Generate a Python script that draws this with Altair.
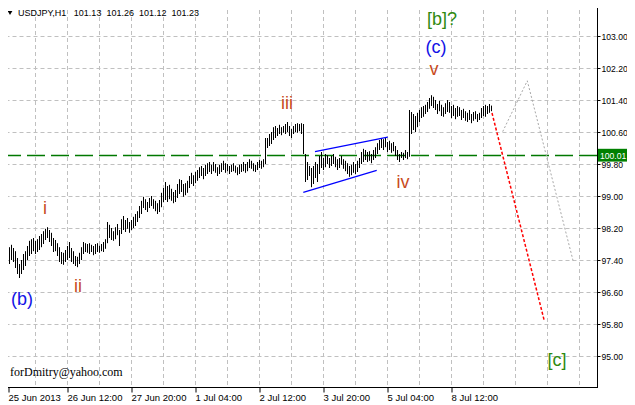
import altair as alt
import pandas as pd

# ---------------- data ----------------
bar_low = [
    97.62, 97.55, 97.30, 97.40, 97.35, 97.20, 97.05, 96.95, 97.05, 97.15,
    97.25, 97.40, 97.50, 97.55, 97.62, 97.55, 97.60, 97.65, 97.72, 97.80,
    97.90, 97.95, 97.85, 97.75, 97.60, 97.62, 97.50, 97.35, 97.30, 97.28,
    97.35, 97.40, 97.45, 97.35, 97.30, 97.25, 97.22, 97.30, 97.40, 97.55,
    97.60, 97.58, 97.55, 97.60, 97.52, 97.55, 97.60, 97.58, 97.62, 97.60,
    97.68, 97.82, 97.95, 97.90, 97.88, 97.92, 98.02, 97.75, 98.05, 98.15,
    98.10, 98.18, 98.08, 98.15, 98.20, 98.25, 98.35, 98.45, 98.55, 98.70,
    98.65, 98.60, 98.70, 98.75, 98.68, 98.62, 98.55, 98.60, 98.72, 98.85,
    98.90, 98.85, 98.92, 98.88, 98.82, 98.85, 98.95, 99.05, 99.10, 98.98,
    99.02, 99.08, 99.20, 99.30, 99.25, 99.32, 99.38, 99.45, 99.50, 99.42,
    99.50, 99.55, 99.60, 99.55, 99.62, 99.58, 99.50, 99.55, 99.60, 99.65,
    99.58, 99.62, 99.55, 99.60, 99.62, 99.58, 99.52, 99.55, 99.60, 99.62,
    99.58, 99.62, 99.70, 99.68, 99.62, 99.60, 99.65, 99.70, 99.68, 99.72,
    99.80, 100.20, 100.25, 100.30, 100.40, 100.45, 100.50, 100.55, 100.52, 100.58,
    100.55, 100.60, 100.50, 100.45, 100.55, 100.60, 100.58, 100.62, 100.55, 100.05,
    99.35, 99.40, 99.50, 99.22, 99.30, 99.45, 99.35, 99.55, 99.70, 99.65,
    99.72, 99.80, 99.70, 99.75, 99.80, 99.72, 99.65, 99.70, 99.78, 99.68,
    99.62, 99.55, 99.48, 99.52, 99.58, 99.55, 99.60, 99.70, 99.80, 99.85,
    99.90, 99.85, 99.88, 99.82, 99.90, 99.95, 100.05, 100.15, 100.20, 100.15,
    100.22, 100.10, 100.15, 100.08, 100.12, 100.00, 99.90, 99.85, 99.95, 99.90,
    99.95, 99.92, 99.98, 100.55, 100.65, 100.60, 100.72, 100.85, 100.95, 100.98,
    101.05, 101.10, 101.18, 101.25, 101.20, 101.15, 101.05, 101.12, 101.00, 100.98,
    101.05, 101.10, 101.08, 100.95, 101.00, 100.92, 100.98, 101.00, 100.90, 100.95,
    100.88, 100.85, 100.90, 100.82, 100.88, 100.92, 100.85, 100.90, 100.95, 101.00,
    100.98, 101.05, 101.08, 101.12,
]
bar_high = [
    97.98, 97.85, 97.72, 97.78, 97.70, 97.62, 97.45, 97.30, 97.40, 97.55,
    97.62, 97.75, 97.88, 97.92, 97.95, 97.88, 97.92, 98.00, 98.05, 98.12,
    98.18, 98.22, 98.15, 98.08, 97.95, 97.90, 97.82, 97.72, 97.60, 97.58,
    97.65, 97.75, 97.85, 97.70, 97.62, 97.50, 97.48, 97.58, 97.72, 97.85,
    97.82, 97.80, 97.82, 97.78, 97.75, 97.80, 97.82, 97.76, 97.80, 97.85,
    97.92, 98.35, 98.28, 98.20, 98.12, 98.22, 98.30, 98.15, 98.42, 98.50,
    98.40, 98.45, 98.35, 98.40, 98.48, 98.55, 98.62, 98.75, 98.88, 98.98,
    98.92, 98.85, 98.95, 99.00, 98.92, 98.88, 98.82, 98.90, 99.08, 99.20,
    99.35, 99.25, 99.28, 99.18, 99.10, 99.15, 99.30, 99.42, 99.40, 99.30,
    99.32, 99.38, 99.50, 99.58, 99.52, 99.60, 99.65, 99.72, 99.75, 99.70,
    99.78, 99.82, 99.85, 99.78, 99.85, 99.80, 99.72, 99.78, 99.82, 99.88,
    99.82, 99.80, 99.75, 99.78, 99.82, 99.76, 99.72, 99.78, 99.80, 99.85,
    99.80, 99.85, 99.92, 99.88, 99.82, 99.78, 99.85, 99.90, 99.88, 99.92,
    100.45, 100.45, 100.55, 100.60, 100.72, 100.75, 100.70, 100.78, 100.72, 100.75,
    100.80, 100.85, 100.75, 100.68, 100.75, 100.80, 100.82, 100.80, 100.82, 100.80,
    100.05, 99.85, 99.75, 99.70, 99.75, 99.85, 99.80, 100.00, 100.10, 99.95,
    100.05, 100.02, 99.95, 100.00, 100.05, 99.98, 99.92, 99.95, 100.00, 99.92,
    99.88, 99.82, 99.75, 99.78, 99.85, 99.80, 99.88, 99.95, 100.10, 100.18,
    100.15, 100.10, 100.12, 100.05, 100.15, 100.22, 100.32, 100.40, 100.45, 100.42,
    100.47, 100.35, 100.38, 100.32, 100.35, 100.25, 100.15, 100.05, 100.10, 100.08,
    100.15, 100.10, 101.15, 101.10, 101.05, 101.00, 101.08, 101.15, 101.22, 101.25,
    101.28, 101.35, 101.45, 101.52, 101.48, 101.40, 101.30, 101.38, 101.28, 101.22,
    101.32, 101.40, 101.35, 101.25, 101.28, 101.20, 101.25, 101.22, 101.15, 101.18,
    101.12, 101.08, 101.15, 101.05, 101.10, 101.12, 101.05, 101.08, 101.20, 101.25,
    101.28, 101.25, 101.30, 101.26,
]

symbol_text = "USDJPY,H1"
last_ohlc = [101.13, 101.26, 101.12, 101.23]
level_price = 100.01

x_tick_idx = [1.5, 31, 63, 95, 127, 159, 191, 223]
x_tick_text = ["25 Jun 2013", "26 Jun 12:00", "27 Jun 20:00", "1 Jul 04:00",
               "2 Jul 12:00", "3 Jul 20:00", "5 Jul 04:00", "8 Jul 12:00"]
x_grid_idx = [15, 31, 47, 63, 79, 95, 111, 127, 143, 159, 175, 191, 207, 223,
              239, 255, 271, 287]
y_ticks = [95.00, 95.80, 96.60, 97.40, 98.20, 99.00, 99.80, 100.60, 101.40,
           102.20, 103.00]

# channel (triangle) lines
chan_seg = ["upper", "upper", "lower", "lower"]
chan_idx = [154.75, 191.1, 148.9, 185.6]
chan_price = [100.11, 100.47, 99.09, 99.64]

# forecast paths
red_idx = [243.25, 269.4]
red_price = [101.075, 95.88]
gray_idx = [248.6, 260.9, 283.9]
gray_price = [100.61, 101.88, 97.36]

# wave labels
wave_text = ["(b)", "i", "ii", "iii", "iv", "v", "(c)", "[b]?", "[c]"]
wave_idx = [8.25, 19.75, 36.25, 140.75, 198.75, 214.25, 215.25, 218.25, 275.75]
wave_price = [96.40, 98.675, 96.725, 101.30, 99.325, 102.16, 102.71, 103.39, 94.875]
wave_color = ["#1212e6", "#c84a1c", "#c84a1c", "#c84a1c", "#c84a1c", "#c84a1c",
              "#1212e6", "#2f8a10", "#2f8a10"]

email_text = "forDmitry@yahoo.com"

# ---------------- layout ----------------
W, H = 594, 384.5
X0, X1 = -1.25, 295.75
Y0, Y1 = 94.2125, 103.825
FONT = "Liberation Sans"
xs = alt.Scale(domain=[X0, X1], nice=False, zero=False)
ys = alt.Scale(domain=[Y0, Y1], nice=False, zero=False)

label_expr = " : ".join(f"datum.value == {k} ? '{v}'" for k, v in zip(x_tick_idx, x_tick_text)) + " : ''"

XA = alt.Axis(
    orient="bottom", values=x_tick_idx, labelExpr=label_expr, grid=False,
    domainColor="black", tickColor="black", tickSize=5, labelAlign="left",
    labelBaseline="top", labelPadding=0, labelFont=FONT, labelFontSize=9.5,
    labelColor="black", translate=0, title=None, labelFlush=False,
    labelOverlap=False,
)
YA = alt.Axis(
    orient="right", values=y_ticks, format=".2f", grid=True,
    gridColor="#c0c0c0", gridDash=[4, 3], gridWidth=1, domainColor="black",
    tickColor="black", tickSize=3, labelPadding=1, labelFont=FONT,
    labelFontSize=8.6, labelColor="black", title=None, labelOverlap=False,
    labelFlush=False,
)


def X(f):
    return alt.X(f, scale=xs, axis=XA)


def Y(f):
    return alt.Y(f, scale=ys, axis=YA)


bars_df = pd.DataFrame({"i": list(range(len(bar_low))), "low": bar_low, "high": bar_high})

vgrid = alt.Chart(pd.DataFrame({"g": x_grid_idx})).mark_rule(
    color="#c0c0c0", strokeDash=[4, 3], strokeWidth=1
).encode(x=X("g:Q"))

level_df = pd.DataFrame({"v": [level_price]})
hline = alt.Chart(level_df).mark_rule(
    color="#007800", strokeDash=[18, 6], strokeWidth=1.5
).encode(y=Y("v:Q"))

bars = alt.Chart(bars_df).mark_rule(color="black", strokeWidth=1).encode(
    x=X("i:Q"), y=Y("low:Q"), y2="high:Q",
)

chan = alt.Chart(pd.DataFrame({"seg": chan_seg, "i": chan_idx, "p": chan_price})).mark_line(
    color="#0000ff", strokeWidth=1.2
).encode(x=X("i:Q"), y=Y("p:Q"), detail="seg:N")

red = alt.Chart(pd.DataFrame({"i": red_idx, "p": red_price})).mark_line(
    color="#ff0000", strokeDash=[3, 2], strokeWidth=1.5
).encode(x=X("i:Q"), y=Y("p:Q"))

gray = alt.Chart(pd.DataFrame({"i": gray_idx, "p": gray_price})).mark_line(
    color="#a8a8a8", strokeDash=[2, 2], strokeWidth=1
).encode(x=X("i:Q"), y=Y("p:Q"))

waves = alt.Chart(pd.DataFrame({"t": wave_text, "i": wave_idx, "p": wave_price, "c": wave_color})).mark_text(
    font=FONT, fontSize=18, align="center", baseline="middle"
).encode(
    x=X("i:Q"), y=Y("p:Q"), text="t:N", color=alt.Color("c:N", scale=None),
)

header_str = symbol_text + "\u00a0\u00a0 " + "\u00a0 ".join(f"{v:.2f}" for v in last_ohlc)
hdr_df = pd.DataFrame({"i": [2.25], "p": [103.575], "i2": [6.25], "p2": [103.575], "t": [header_str]})
hdr_pt = alt.Chart(hdr_df).mark_point(shape="triangle-down", filled=True, color="black", size=22, opacity=1).encode(
    x=X("i:Q"), y=Y("p:Q"))
hdr_txt = alt.Chart(hdr_df).mark_text(font=FONT, fontSize=9, align="left", baseline="middle", color="black").encode(
    x=X("i2:Q"), y=Y("p2:Q"), text="t:N")

email = alt.Chart(pd.DataFrame({"i": [2.25], "p": [94.5], "t": [email_text]})).mark_text(
    font="Liberation Serif", fontSize=12, align="left", baseline="alphabetic", color="black"
).encode(x=X("i:Q"), y=Y("p:Q"), text="t:N")

box = alt.Chart(level_df).mark_rect(color="#008000").encode(
    x=alt.value(W + 1), x2=alt.value(W + 31),
    y=alt.Y(datum=level_price + 0.17, scale=ys, axis=YA),
    y2=alt.Y2(datum=level_price - 0.15),
)
box_txt = alt.Chart(level_df).mark_text(
    font=FONT, fontSize=8.6, align="left", baseline="middle", color="white"
).encode(
    x=alt.value(W + 3), y=Y("v:Q"),
    text=alt.Text("v:Q", format=".2f"),
)

chart = alt.layer(
    vgrid, hline, bars, chan, red, gray, waves, hdr_pt, hdr_txt, email, box, box_txt
).properties(
    width=W, height=H,
    padding={"left": -5, "top": -5, "right": 30, "bottom": 16},
    autosize=alt.AutoSizeParams(type="none"),
    background="white",
).configure_view(strokeWidth=0)

chart.save("out.html", embed_options={"renderer": "svg", "actions": False})
